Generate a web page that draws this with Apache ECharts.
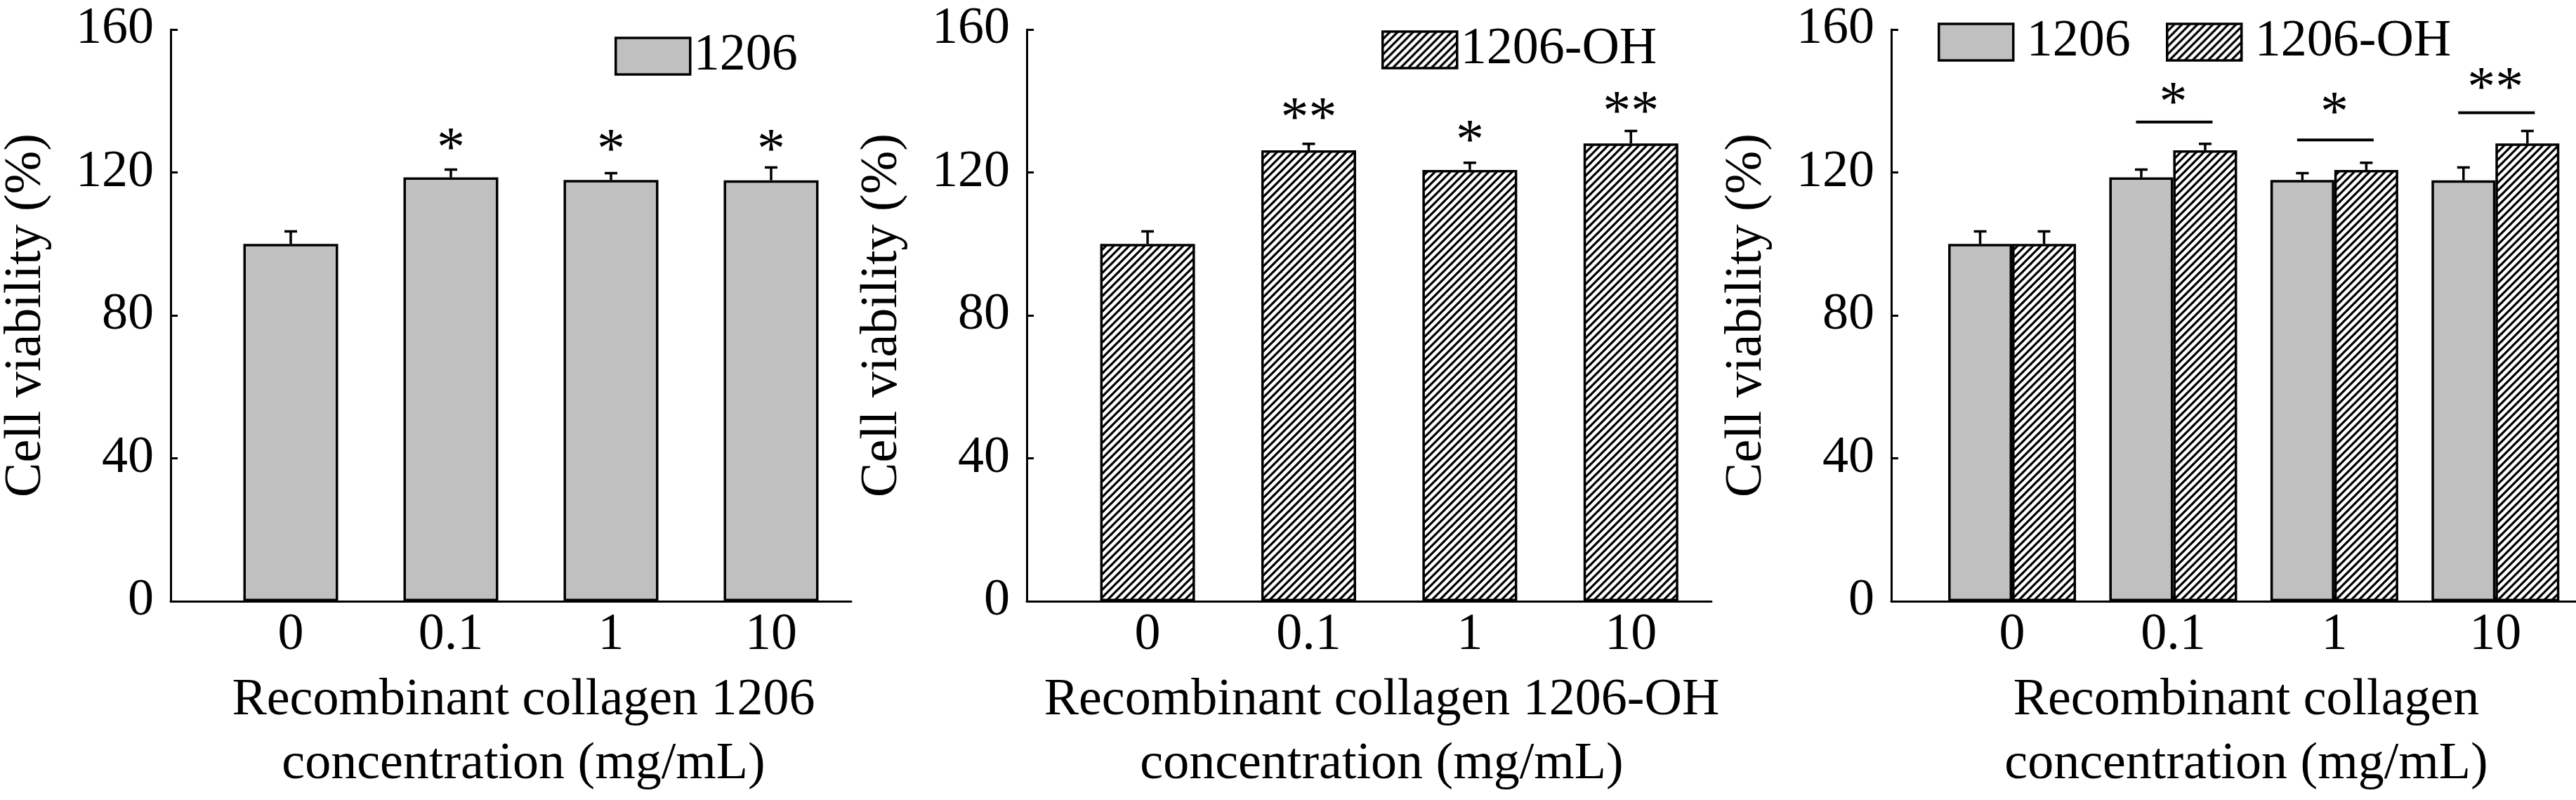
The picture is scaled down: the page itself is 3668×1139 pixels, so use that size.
<!DOCTYPE html>
<html>
<head>
<meta charset="utf-8">
<title>Cell viability</title>
<script src="https://cdn.jsdelivr.net/npm/echarts@6/dist/echarts.min.js"></script>
<style>
html, body { margin: 0; padding: 0; background: #fff; }
#main { width: 3668px; height: 1139px; }
</style>
</head>
<body>
<div id="main"></div>
<script>
// 横轴的几个浓度
var categories = ['0', '0.1', '1', '10'];
var yTicks = [0, 40, 80, 120, 160];

// 1206 的细胞活力和误差
var v1206 = [100, 118.6, 117.9, 117.8];
var e1206 = [3.5, 2.2, 1.9, 3.6];

// 1206-OH 的细胞活力和误差
var v1206OH = [100, 126.2, 120.7, 128.1];
var e1206OH = [3.5, 1.8, 2.0, 3.5];

// 显著性星号, 左图和中图只有星号
var sig1Text = ['', '*', '*', '*'];
var sig1Y = [null, 128.1, 127.7, 127.7];
var sig2Text = ['', '**', '*', '**'];
var sig2Y = [null, 136.7, 130.4, 138.4];
// 右图是横线加星号
var sig3Text = ['', '*', '*', '**'];
var sig3LineY = [null, 134.1, 129.1, 136.7];
var sig3StarY = [null, 141.0, 138.1, 145.1];

var FONT = '"Liberation Serif", "Times New Roman", serif';

// 斜线填充
function makeHatch() {
	var s = 11;
	var c = document.createElement('canvas');
	c.width = s;
	c.height = s;
	var g = c.getContext('2d');
	g.fillStyle = '#fff';
	g.fillRect(0, 0, s, s);
	g.strokeStyle = '#000';
	g.lineWidth = 3.2;
	[0, s, 2 * s].forEach(function (k) {
		g.beginPath();
		g.moveTo(-3, k + 3);
		g.lineTo(s + 3, k - s - 3);
		g.stroke();
	});
	return { image: c, repeat: 'repeat' };
}
var hatch = makeHatch();

var grayStyle = { color: '#c0c0c0', borderColor: '#000', borderWidth: 3.5 };
var hatchStyle = { color: hatch, borderColor: '#000', borderWidth: 3.5 };

var gridLefts = [237, 1462, 2693];
var xNames = [
	'Recombinant collagen 1206\nconcentration (mg/mL)',
	'Recombinant collagen 1206-OH\nconcentration (mg/mL)',
	'Recombinant collagen\nconcentration (mg/mL)'
];

function makeX(i) {
	return {
		type: 'value', gridIndex: i, min: -0.75, max: 3.5,
		axisLine: { show: true, onZero: false, lineStyle: { color: '#000', width: 3 } },
		axisTick: { show: true, inside: true, length: 8, customValues: [0, 1, 2, 3], lineStyle: { color: '#000', width: 3 } },
		axisLabel: {
			customValues: [0, 1, 2, 3],
			formatter: function (v) { return categories[Math.round(v)]; },
			fontFamily: FONT, fontSize: 74, lineHeight: 74, color: '#000', margin: 12
		},
		splitLine: { show: false },
		name: xNames[i], nameLocation: 'middle', nameGap: 96,
		nameTextStyle: { fontFamily: FONT, fontSize: 74, lineHeight: 91, color: '#000', padding: [0, 0, 0, 36] }
	};
}

function makeY(i) {
	return {
		type: 'value', gridIndex: i, min: yTicks[0], max: yTicks[yTicks.length - 1], interval: 40,
		axisLine: { show: true, onZero: false, lineStyle: { color: '#000', width: 3 } },
		axisTick: { show: true, inside: true, length: 10, lineStyle: { color: '#000', width: 3 } },
		axisLabel: { fontFamily: FONT, fontSize: 74, color: '#000', margin: 24 },
		splitLine: { show: false },
		name: 'Cell viability (%)', nameLocation: 'middle', nameGap: 168, nameRotate: 90,
		nameTextStyle: { fontFamily: FONT, fontSize: 74, lineHeight: 74, color: '#000' }
	};
}

function pairs(vals) {
	return vals.map(function (v, i) { return [i, v]; });
}

// 误差线, dx 是相对柱中心的像素偏移
function errSeries(axis, vals, errs, dx) {
	return {
		type: 'custom', xAxisIndex: axis, yAxisIndex: axis, silent: true, z: 5,
		data: vals.map(function (v, i) { return [i, v, v + errs[i]]; }),
		renderItem: function (params, api) {
			var lo = api.coord([api.value(0), api.value(1)]);
			var hi = api.coord([api.value(0), api.value(2)]);
			var x = lo[0] + dx;
			var st = { stroke: '#000', lineWidth: 3.5 };
			return {
				type: 'group', children: [
					{ type: 'line', shape: { x1: x, y1: lo[1], x2: x, y2: hi[1] }, style: st },
					{ type: 'line', shape: { x1: x - 9, y1: hi[1], x2: x + 9, y2: hi[1] }, style: st }
				]
			};
		}
	};
}

// 星号和横线
function sigSeries(axis, texts, starY, lineY) {
	var data = [];
	texts.forEach(function (t, i) {
		if (t) data.push([i, starY[i], lineY ? lineY[i] : 0]);
	});
	return {
		type: 'custom', xAxisIndex: axis, yAxisIndex: axis, silent: true, z: 6,
		data: data,
		renderItem: function (params, api) {
			var idx = api.value(0);
			var s = api.coord([idx, api.value(1)]);
			var children = [{
				type: 'text', x: s[0], y: s[1] + 11,
				style: { text: texts[idx], fontFamily: FONT, fontSize: 80, fill: '#000', align: 'center', verticalAlign: 'middle' }
			}];
			if (lineY) {
				var l = api.coord([idx, api.value(2)]);
				children.push({
					type: 'line', shape: { x1: l[0] - 53, y1: l[1], x2: l[0] + 56, y2: l[1] },
					style: { stroke: '#000', lineWidth: 4 }
				});
			}
			return { type: 'group', children: children };
		}
	};
}

var legendBase = {
	orient: 'horizontal', padding: 0, itemGap: 0, itemWidth: 106, itemHeight: 52,
	icon: 'rect', selectedMode: false,
	itemStyle: { borderColor: '#000', borderWidth: 3.5 },
	textStyle: { fontFamily: FONT, fontSize: 74, color: '#000' }
};
var legendWide = Object.assign({}, legendBase, {
	textStyle: { fontFamily: FONT, fontSize: 74, color: '#000', padding: [0, 0, 0, 14] }
});

var option = {
	backgroundColor: '#fff',
	animation: false,
	grid: gridLefts.map(function (l) {
		return { left: l, top: 42, width: 975, height: 817 };
	}),
	xAxis: [makeX(0), makeX(1), makeX(2)],
	yAxis: [makeY(0), makeY(1), makeY(2)],
	legend: [
		Object.assign({}, legendBase, { data: ['1206'], left: 875, top: 43 }),
		Object.assign({}, legendBase, { data: ['1206-OH'], left: 1967, top: 34 }),
		Object.assign({}, legendWide, { data: ['1206'], left: 2759, top: 23 }),
		Object.assign({}, legendWide, { data: ['1206-OH'], left: 3084, top: 23 })
	],
	series: [
		// 左图
		{ name: '1206', type: 'bar', xAxisIndex: 0, yAxisIndex: 0, barWidth: 135, data: pairs(v1206), itemStyle: grayStyle },
		errSeries(0, v1206, e1206, 0),
		sigSeries(0, sig1Text, sig1Y, null),
		// 中图
		{ name: '1206-OH', type: 'bar', xAxisIndex: 1, yAxisIndex: 1, barWidth: 135, data: pairs(v1206OH), itemStyle: hatchStyle },
		errSeries(1, v1206OH, e1206OH, 0),
		sigSeries(1, sig2Text, sig2Y, null),
		// 右图
		{ name: '1206', type: 'bar', xAxisIndex: 2, yAxisIndex: 2, barWidth: 91, barGap: '0%', data: pairs(v1206), itemStyle: grayStyle },
		{ name: '1206-OH', type: 'bar', xAxisIndex: 2, yAxisIndex: 2, barWidth: 91, barGap: '0%', data: pairs(v1206OH), itemStyle: hatchStyle },
		errSeries(2, v1206, e1206, -45.5),
		errSeries(2, v1206OH, e1206OH, 45.5),
		sigSeries(2, sig3Text, sig3StarY, sig3LineY)
	]
};

var myChart = echarts.init(document.getElementById('main'));
myChart.setOption(option);
</script>
</body>
</html>
